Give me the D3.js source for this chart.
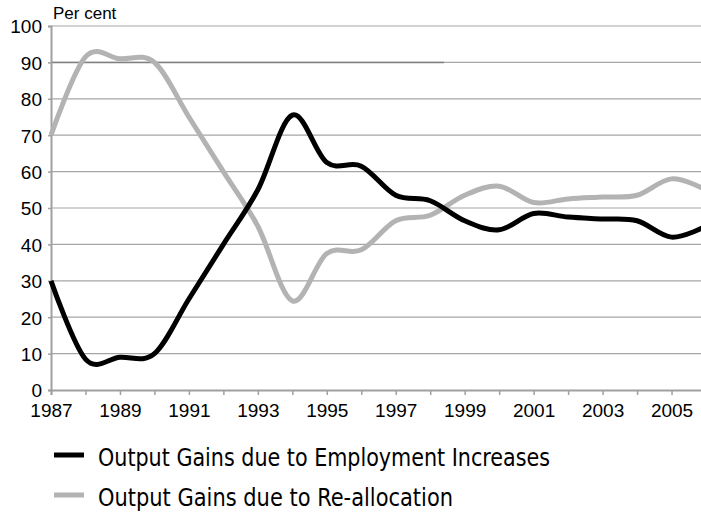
<!DOCTYPE html>
<html>
<head>
<meta charset="utf-8">
<script src="https://cdn.jsdelivr.net/npm/d3@7"></script>
<style>
  body { margin: 0; background: #fff; }
  svg { display: block; }
</style>
</head>
<body>
<div id="chart"></div>
<script>
// Data
var years = [1987, 1988, 1989, 1990, 1991, 1992, 1993, 1994, 1995, 1996,
             1997, 1998, 1999, 2000, 2001, 2002, 2003, 2004, 2005, 2006];
var employment = [30, 8.5, 9, 10, 25, 40, 55, 75.5, 62.5, 61.5,
                  53.5, 52, 46.5, 44, 48.5, 47.5, 47, 46.5, 42, 45];
var reallocation = [70, 91.5, 91, 90, 75, 60, 45, 24.5, 37.5, 38.5,
                    46.5, 48, 53.5, 56, 51.5, 52.5, 53, 53.5, 58, 55];
var yTicks = [0, 10, 20, 30, 40, 50, 60, 70, 80, 90, 100];
var xLabels = [1987, 1989, 1991, 1993, 1995, 1997, 1999, 2001, 2003, 2005];
var legendData = [
  {name: "Output Gains due to Employment Increases", color: "#000000", values: employment},
  {name: "Output Gains due to Re-allocation", color: "#b3b3b3", values: reallocation}
];

var width = 701, height = 512;
var margin = {top: 26, right: -5, bottom: 122, left: 51};
var innerW = width - margin.left - margin.right,
    innerH = height - margin.top - margin.bottom;

var svg = d3.select("#chart").append("svg")
  .attr("width", width)
  .attr("height", height);
var g = svg.append("g")
  .attr("transform", "translate(" + margin.left + "," + margin.top + ")");

var x = d3.scaleLinear().domain([1987, 2006]).range([0, innerW]);
var y = d3.scaleLinear().domain([0, 100]).range([innerH, 0]);

var font = "'Liberation Sans', Arial, sans-serif";

// gridlines
g.append("g").selectAll("line")
  .data(yTicks.filter(function(d) { return d > 0; }))
  .enter().append("line")
    .attr("x1", 0).attr("x2", innerW)
    .attr("y1", function(d) { return y(d); })
    .attr("y2", function(d) { return y(d); })
    .attr("stroke", "#a6a6a6")
    .attr("stroke-width", 1.2);

// darker stretch on the 90 line, as in the source
g.append("line")
  .attr("x1", 0).attr("x2", x(1998.4))
  .attr("y1", y(90)).attr("y2", y(90))
  .attr("stroke", "#808080")
  .attr("stroke-width", 1.5);

// axes
var yAxis = g.append("g")
  .call(d3.axisLeft(y).tickValues(yTicks).tickSize(3).tickFormat(d3.format("d")));
var xAxis = g.append("g")
  .attr("transform", "translate(0," + innerH + ")")
  .call(d3.axisBottom(x).tickValues(d3.range(1987, 2007)).tickSize(5)
    .tickFormat(function(d) { return xLabels.indexOf(d) >= 0 ? d : ""; }));

[yAxis, xAxis].forEach(function(a) {
  a.select(".domain").attr("stroke", "#a0a0a0").attr("stroke-width", 2);
  a.selectAll(".tick line").attr("stroke", "#a0a0a0").attr("stroke-width", 1.5);
  a.selectAll("text").attr("fill", "#000").style("font-family", font).style("font-size", "19px");
});
yAxis.selectAll("text").attr("x", -9).attr("dy", "0.36em");
xAxis.selectAll("text").attr("y", 14).attr("dy", "0.71em");

// unit label
svg.append("text")
  .attr("x", 53)
  .attr("y", 19)
  .style("font-family", font)
  .style("font-size", "17px")
  .text("Per cent");

// lines
var line = d3.line()
  .curve(d3.curveCatmullRom.alpha(0))
  .x(function(d, i) { return x(years[i]); })
  .y(function(d) { return y(d); });

legendData.slice().reverse().forEach(function(s) {
  g.append("path")
    .datum(s.values)
    .attr("fill", "none")
    .attr("stroke", s.color)
    .attr("stroke-width", 5)
    .attr("stroke-linejoin", "round")
    .attr("stroke-linecap", "butt")
    .attr("d", line);
});

// legend (the source face is narrow, so squeeze it to the same widths)
var legendWidths = [452, 355];
var legend = svg.append("g").attr("class", "legend");
legendData.forEach(function(d, i) {
  var ly = 455 + i * 40;
  legend.append("line")
    .attr("x1", 54).attr("x2", 84)
    .attr("y1", ly).attr("y2", ly)
    .attr("stroke", d.color)
    .attr("stroke-width", 5);
  legend.append("text")
    .attr("x", 98)
    .attr("y", ly + 11)
    .style("font-family", "'DejaVu Sans Condensed', 'DejaVu Sans', sans-serif")
    .style("font-size", "24px")
    .attr("fill", "#000")
    .attr("textLength", legendWidths[i])
    .attr("lengthAdjust", "spacingAndGlyphs")
    .text(d.name);
});
</script>
</body>
</html>
